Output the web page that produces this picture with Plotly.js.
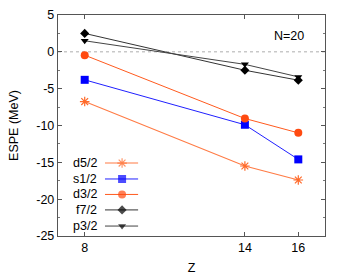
<!DOCTYPE html>
<html><head><meta charset="utf-8">
<script src="https://cdn.plot.ly/plotly-3.0.1.min.js"></script>
<style>body{margin:0;background:#fff}#c{width:347px;height:275px}</style>
</head><body><div id="c"></div>
<script>
const Z = [8, 14, 16];
const seriesNames = ['d5/2', 's1/2', 'd3/2', 'f7/2', 'p3/2'];
const d52 = [-6.75, -15.5, -17.4];
const s12 = [-3.8, -9.9, -14.6];
const d32 = [-0.45, -9.05, -11.0];
const f72 = [2.5, -2.5, -3.85];
const p32 = [1.5, -1.7, -3.4];
const xTicks = [8, 14, 16];
const yTicks = [5, 0, -5, -10, -15, -20, -25];

const styles = [
  {line: '#ff7b45', mcol: '#ff6a2a', sym: 'asterisk-open', size: 8, lw: 1.1},
  {line: '#2020ff', mcol: '#0000ff', sym: 'square', size: 8, lw: 1},
  {line: '#ff5a1e', mcol: '#ff4a10', sym: 'circle', size: 8, lw: 1},
  {line: '#333333', mcol: '#000000', sym: 'diamond', size: 7, lw: 1},
  {line: '#444444', mcol: '#000000', sym: 'triangle-down', size: 7, lw: 1}
];
const values = [d52, s12, d32, f72, p32];

const traces = [];
values.forEach((v, i) => {
  const s = styles[i];
  traces.push({
    x: Z, y: v, name: seriesNames[i], mode: 'lines+markers', type: 'scatter',
    line: {color: s.line, width: s.lw},
    marker: {color: s.mcol, symbol: s.sym, size: s.size, line: {color: s.mcol, width: s.sym === 'asterisk-open' ? 1.2 : 0}},
    showlegend: false, cliponaxis: false
  });
});

// custom gnuplot-style legend (text left of sample)
const legY = [0.330, 0.258, 0.188, 0.118, 0.045];
const annotations = [];
seriesNames.forEach((n, i) => {
  const s = styles[i];
  traces.push({
    x: [0.176, 0.24, 0.30], y: [legY[i], legY[i], legY[i]], xaxis: 'x2', yaxis: 'y2',
    mode: 'lines+markers', type: 'scatter', showlegend: false, hoverinfo: 'skip',
    line: {color: s.line, width: s.lw},
    marker: {color: s.mcol, symbol: s.sym, size: [0, s.size, 0], line: {color: s.mcol, width: s.sym === 'asterisk-open' ? 1.2 : 0}}
  });
  annotations.push({
    xref: 'x2', yref: 'y2', x: 0.152, y: legY[i], text: n, showarrow: false,
    xanchor: 'right', yanchor: 'middle', font: {size: 12.5, color: '#000'}
  });
});
annotations.push({xref: 'paper', yref: 'paper', x: 0.865, y: 0.905, text: 'N=20', showarrow: false,
  xanchor: 'center', yanchor: 'middle', font: {size: 12.5, color: '#000'}});

const layout = {
  width: 347, height: 275,
  margin: {l: 58, r: 22, t: 15, b: 39},
  paper_bgcolor: '#fff', plot_bgcolor: '#fff',
  font: {family: 'Liberation Sans, Arial, sans-serif', size: 12.5, color: '#000'},
  xaxis: {
    range: [7, 17], tickvals: xTicks, ticktext: xTicks.map(String),
    ticks: 'inside', ticklen: 4, tickcolor: '#555', mirror: 'ticks', showline: true,
    linecolor: '#555', linewidth: 1.2, showgrid: false, zeroline: false,
    title: {text: 'Z', font: {size: 12.5, color: '#000'}, standoff: 12}
  },
  yaxis: {
    range: [-25, 5], tickvals: yTicks, ticktext: yTicks.map(String),
    ticks: 'inside', ticklen: 4, tickcolor: '#555', mirror: 'ticks', showline: true,
    linecolor: '#555', linewidth: 1.2, showgrid: false, zeroline: false,
    minor: {dtick: 2.5, tick0: 0, ticks: 'inside', ticklen: 2, tickcolor: '#777'},
    title: {text: 'ESPE (MeV)', font: {size: 12.5, color: '#000'}, standoff: 14}
  },
  xaxis2: {overlaying: 'x', anchor: 'y2', range: [0, 1], visible: false, fixedrange: true},
  yaxis2: {overlaying: 'y', anchor: 'x2', range: [0, 1], visible: false, fixedrange: true},
  shapes: [{type: 'line', xref: 'paper', x0: 0, x1: 1, yref: 'y', y0: 0, y1: 0,
    line: {color: '#999', width: 0.8, dash: 'dot'}, layer: 'below'}],
  annotations: annotations,
  showlegend: false
};
Plotly.newPlot('c', traces, layout, {displayModeBar: false, staticPlot: true});
</script></body></html>
